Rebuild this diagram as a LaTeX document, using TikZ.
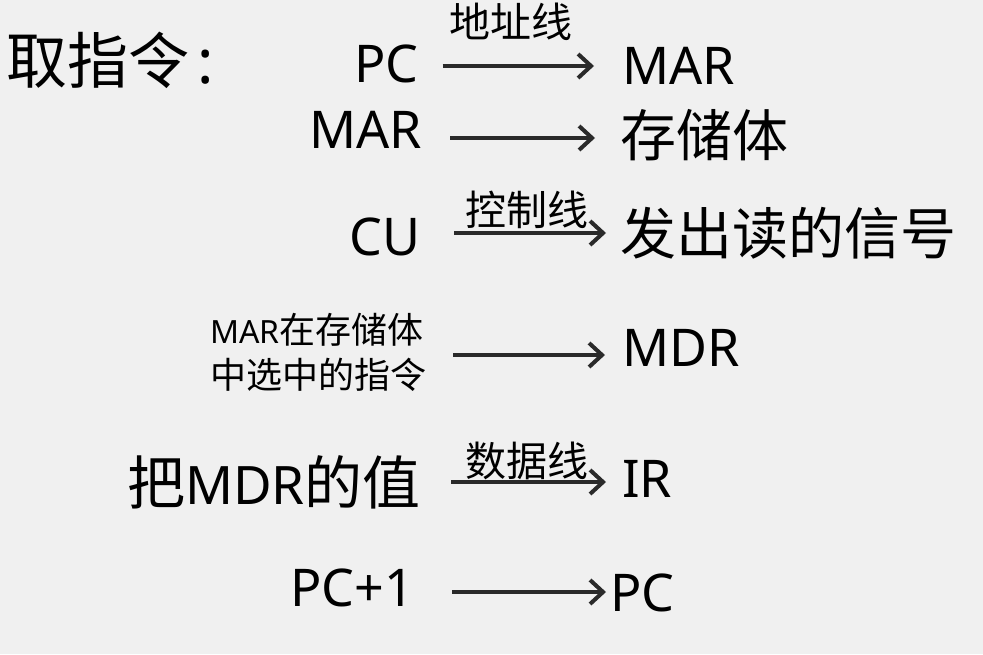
\documentclass[tikz,border=0pt]{standalone}
\usepackage{fontspec}
\setmainfont{Noto Sans}
\newfontfamily\cjk{Noto Sans CJK SC}
\usetikzlibrary{arrows.meta}
\definecolor{bgc}{HTML}{F0F0F0}
\definecolor{arrc}{HTML}{2A2A2A}
\tikzset{
  big/.style={inner sep=0pt, anchor=west, font=\fontsize{52}{58}\selectfont},
  cjkbig/.style={inner sep=0pt, anchor=west, font=\cjk\fontsize{56}{62}\selectfont},
  lbl/.style={inner sep=0pt, font=\cjk\fontsize{41}{45}\selectfont},
  small/.style={inner sep=0pt, anchor=west, align=left, font=\cjk\fontsize{36}{45}\selectfont},
  arr/.style={draw=arrc, line width=4pt, -{Straight Barb[length=13pt,width=24pt,line width=4pt]}}
}
\begin{document}
\begin{tikzpicture}[x=1pt,y=-1pt]
\fill[bgc] (0,0) rectangle (983,654);
\useasboundingbox (0,0) rectangle (983,654);
% row 0 title
\node[cjkbig, font=\cjk\fontsize{61}{66}\selectfont] (title) at (6,60) {取指令\hspace{8pt}{\fontspec{Noto Sans}:}};
% row 1
\node[big] (pc) at (354,64) {PC};
\node[big] (mar1) at (622,66) {MAR};
\node[lbl] (l1) at (511,22) {地址线};
% row 2
\node[big] (mar2) at (309,130) {MAR};
\node[cjkbig] (mem) at (620,135) {存储体};
% row 3
\node[big] (cu) at (349,237) {CU};
\node[cjkbig] (rd) at (620,233) {发出读的信号};
\node[lbl] (l2) at (527,210) {控制线};
% row 4
\node[small] (sel) at (210,352) {{\fontspec{Noto Sans}\fontsize{32}{40}\selectfont MAR}在存储体\\中选中的指令};
\node[big] (mdr) at (622,348) {MDR};
% row 5
\node[cjkbig, font=\cjk\fontsize{58}{64}\selectfont] (val) at (127,482) {把{\fontspec{Noto Sans}\fontsize{53}{58}\selectfont MDR}的值};
\node[big] (ir) at (622,479) {IR};
\node[lbl] (l3) at (527,461) {数据线};
% row 6
\node[big] (pc1) at (290,588) {PC+1};
\node[big] (pc2) at (610,593) {PC};
% arrows
\draw[arr] ([xshift=24pt,yshift=-2pt]pc.east) -- ([xshift=-28pt,yshift=-2pt]pc.east -| mar1.west);
\draw[arr] ([xshift=28pt,yshift=-8pt]mar2.east) -- ([xshift=-25pt,yshift=-8pt]mar2.east -| mem.west);
\draw[arr] ([xshift=34pt,yshift=4pt]cu.east) -- ([xshift=-14pt,yshift=4pt]cu.east -| rd.west);
\draw[arr] ([xshift=27pt,yshift=-3pt]sel.east) -- ([xshift=-17pt,yshift=-3pt]sel.east -| mdr.west);
\draw[arr] ([xshift=30pt]val.east) -- ([xshift=-16pt]val.east -| ir.west);
\draw[arr] ([xshift=38pt,yshift=-4pt]pc1.east) -- ([xshift=-4pt,yshift=-4pt]pc1.east -| pc2.west);
\end{tikzpicture}
\end{document}
